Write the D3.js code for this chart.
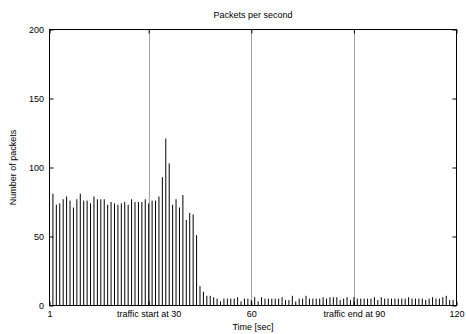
<!DOCTYPE html>
<html>
<head>
<meta charset="utf-8">
<script src="https://cdn.jsdelivr.net/npm/d3@7"></script>
<style>
  body { margin: 0; background: #fff; }
  svg { display: block; }
  text { font-family: "Liberation Sans", Arial, sans-serif; font-size: 9px; fill: #000; }
</style>
</head>
<body>
<svg id="chart"></svg>
<script>
// packets counted in each second, seconds 1..120
const packets = [
  79, 81, 73, 74, 77, 79, 76, 71, 77, 81,
  76, 76, 74, 79, 77, 77, 77, 73, 75, 74,
  73, 74, 75, 73, 77, 75, 75, 75, 77, 74,
  76, 76, 79, 93, 121, 103, 73, 77, 71, 80,
  62, 67, 66, 51, 14, 10, 7, 7, 6, 5,
  3, 5, 5, 5, 5, 6, 3, 5, 5, 4,
  6, 3, 6, 5, 5, 5, 5, 5, 6, 4,
  4, 7, 3, 5, 5, 7, 5, 5, 5, 5,
  6, 5, 6, 6, 6, 4, 5, 6, 4, 6,
  5, 5, 5, 5, 5, 6, 4, 6, 5, 5,
  5, 5, 5, 5, 5, 6, 5, 5, 5, 5,
  4, 5, 6, 5, 5, 6, 7, 4, 4, 7
];
const seconds = packets.map((d, i) => i + 1);

const xTicks = [1, 30, 60, 90, 120];
const xTickLabels = ["1", "traffic start at 30", "60", "traffic end at 90", "120"];
const gridLines = [30, 60, 90];
const yTicks = [0, 50, 100, 150, 200];

const W = 466, H = 334;
const plot = { left: 49.5, right: 456.5, top: 29.5, bottom: 305.5 };

const svg = d3.select("#chart").attr("width", W).attr("height", H);

const x = d3.scaleLinear().domain([1, 120]).range([plot.left, plot.right]);
const y = d3.scaleLinear().domain([0, 200]).range([plot.bottom, plot.top]);

// dotted grid at the traffic markers
svg.selectAll(".grid")
  .data(gridLines)
  .enter().append("line")
  .attr("x1", d => Math.round(x(d)) + 0.5).attr("x2", d => Math.round(x(d)) + 0.5)
  .attr("y1", plot.top).attr("y2", plot.bottom)
  .attr("stroke", "#444")
  .attr("stroke-width", 1)
  .attr("stroke-dasharray", "1,1");

// impulses
svg.selectAll(".imp")
  .data(packets)
  .enter().append("line")
  .attr("x1", (d, i) => x(seconds[i])).attr("x2", (d, i) => x(seconds[i]))
  .attr("y1", y(0)).attr("y2", d => y(d))
  .attr("stroke", "#000")
  .attr("stroke-width", 1);

// axes with inward ticks, mirrored
const tick = 4;
svg.append("g")
  .attr("transform", `translate(0,${plot.bottom})`)
  .call(d3.axisBottom(x).tickValues(xTicks).tickSize(-tick).tickPadding(5)
    .tickFormat((d, i) => xTickLabels[i]))
  .call(g => g.select(".domain").remove());
svg.append("g")
  .attr("transform", `translate(0,${plot.top})`)
  .call(d3.axisTop(x).tickValues(xTicks).tickSize(-tick).tickFormat(""))
  .call(g => g.select(".domain").remove());
svg.append("g")
  .attr("transform", `translate(${plot.left},0)`)
  .call(d3.axisLeft(y).tickValues(yTicks).tickSize(-tick).tickPadding(5.5))
  .call(g => g.select(".domain").remove());
svg.append("g")
  .attr("transform", `translate(${plot.right},0)`)
  .call(d3.axisRight(y).tickValues(yTicks).tickSize(-tick).tickFormat(""))
  .call(g => g.select(".domain").remove());

svg.selectAll(".tick line").attr("stroke", "#000");
svg.selectAll(".tick text")
  .attr("font-family", "Liberation Sans, Arial, sans-serif")
  .attr("font-size", 9)
  .attr("fill", "#000");

// border
svg.append("rect")
  .attr("x", plot.left).attr("y", plot.top)
  .attr("width", plot.right - plot.left).attr("height", plot.bottom - plot.top)
  .attr("fill", "none").attr("stroke", "#000").attr("stroke-width", 1);

svg.append("text")
  .attr("x", (plot.left + plot.right) / 2).attr("y", 18)
  .attr("text-anchor", "middle")
  .text("Packets per second");

svg.append("text")
  .attr("x", (plot.left + plot.right) / 2).attr("y", 330)
  .attr("text-anchor", "middle")
  .text("Time [sec]");

svg.append("text")
  .attr("transform", `translate(16,${(plot.top + plot.bottom) / 2}) rotate(-90)`)
  .attr("text-anchor", "middle")
  .text("Number of packets");
</script>
</body>
</html>
